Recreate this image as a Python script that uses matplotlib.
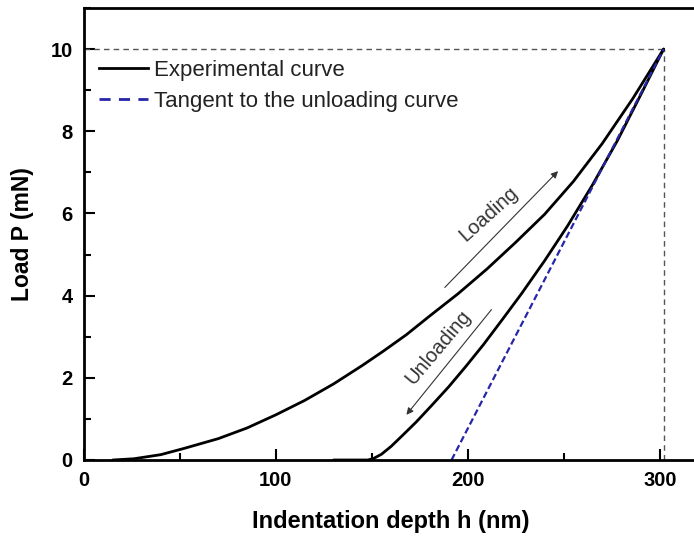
import matplotlib
matplotlib.use("Agg")
import matplotlib.pyplot as plt
from matplotlib.lines import Line2D
from matplotlib.ticker import MultipleLocator

plt.rcParams['font.family'] = ['Liberation Sans', 'DejaVu Sans']

# loading branch (h in nm, P in mN)
h_load = [15, 26, 40, 52, 70, 85, 100, 115, 130, 145, 156, 168, 180, 195,
          210, 225, 240, 255, 270, 286, 302]
p_load = [0.0, 0.03, 0.13, 0.28, 0.52, 0.78, 1.1, 1.45, 1.85, 2.3, 2.65, 3.05,
          3.5, 4.05, 4.65, 5.3, 5.98, 6.78, 7.7, 8.8, 10.0]

# unloading branch
h_unload = [302, 290, 278, 265, 252, 240, 228, 218, 208, 199, 190, 181, 173,
            166, 160, 155, 151, 148, 130]
p_unload = [10.0, 8.88, 7.78, 6.7, 5.7, 4.85, 4.05, 3.42, 2.8, 2.28, 1.78, 1.32,
            0.92, 0.6, 0.33, 0.14, 0.04, 0.0, 0.0]

# tangent to the unloading curve
h_tan = [191.5, 302]
p_tan = [0.0, 10.0]

h_max = 302
p_max = 10

fig = plt.figure(figsize=(6.94, 5.37), dpi=100)
ax = fig.add_axes([0.121, 0.1434, 0.885, 0.8417])

ax.plot([0, h_max], [p_max, p_max], color='#555555', lw=1.0, dashes=(4, 3))
ax.plot([h_max, h_max], [0, p_max], color='#555555', lw=1.0, dashes=(4, 3))

ax.plot(h_load, p_load, color='black', lw=2.0, solid_capstyle='round')
ax.plot(h_unload, p_unload, color='black', lw=2.0, solid_capstyle='round')
ax.plot(h_tan, p_tan, color='#2626a8', lw=1.6, dashes=(3, 1.5))

# arrows with labels
ax.annotate('', xy=(247, 7.03), xytext=(188, 4.2),
            arrowprops=dict(arrowstyle='-|>', lw=0.8, color='#333333',
                            mutation_scale=10, shrinkA=0, shrinkB=0))
ax.text(211, 5.98, 'Loading', rotation=42, fontsize=14.5, color='#333333',
        ha='center', va='center')
ax.annotate('', xy=(168, 1.1), xytext=(212.3, 3.66),
            arrowprops=dict(arrowstyle='-|>', lw=0.8, color='#333333',
                            mutation_scale=10, shrinkA=0, shrinkB=0))
ax.text(184.5, 2.75, 'Unloading', rotation=50, fontsize=14.5, color='#333333',
        ha='center', va='center')

ax.set_xlim(0, 320)
ax.set_ylim(0, 11)
ax.xaxis.set_major_locator(MultipleLocator(100))
ax.xaxis.set_minor_locator(MultipleLocator(50))
ax.yaxis.set_major_locator(MultipleLocator(2))
ax.yaxis.set_minor_locator(MultipleLocator(1))
ax.tick_params(which='both', direction='in', width=1.5)
ax.tick_params(which='major', length=8, labelsize=14.5, pad=8)
ax.tick_params(which='minor', length=5)
for lab in ax.get_xticklabels() + ax.get_yticklabels():
    lab.set_fontweight('bold')
for sp in ax.spines.values():
    sp.set_linewidth(2.0)

ax.set_xlabel('Indentation depth h (nm)', fontsize=17, fontweight='bold',
              labelpad=14)
ax.set_ylabel('Load P (mN)', fontsize=16.5, fontweight='bold', labelpad=12)

handles = [Line2D([], [], color='black', lw=2.0),
           Line2D([], [], color='#2626a8', lw=2.0, dashes=(4, 3))]
labels = ['Experimental curve', 'Tangent to the unloading curve']
leg = ax.legend(handles, labels, loc='upper left',
                bbox_to_anchor=(-0.008, 0.93), frameon=False,
                fontsize=16, handlelength=2.2, handletextpad=0.25,
                labelspacing=0.45, borderaxespad=0.5)
for t in leg.get_texts():
    t.set_color('#222222')

fig.savefig('out.png', dpi=100)
